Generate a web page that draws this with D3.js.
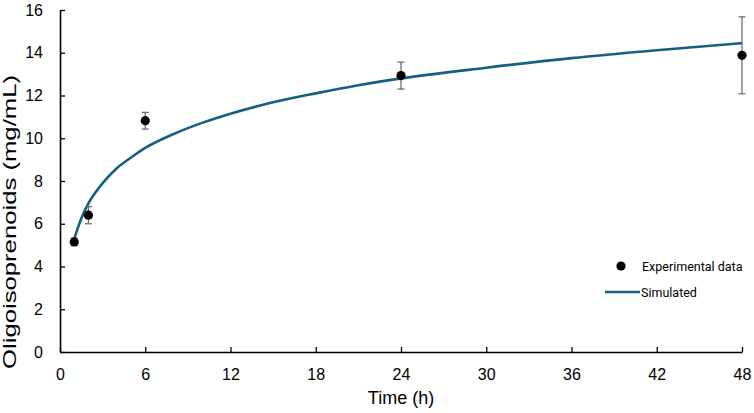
<!DOCTYPE html>
<html>
<head>
<meta charset="utf-8">
<script src="https://cdn.jsdelivr.net/npm/d3@7"></script>
<style>
  body { margin: 0; background: #fff; }
  text { font-family: "Liberation Sans", Arial, sans-serif; }
  .legend text { font-family: Roboto, "Noto Sans", sans-serif; }
</style>
</head>
<body>
<div id="chart"></div>
<script>
// experimental data (mean and error)
var expTime = [1, 2, 6, 24, 48];
var expValue = [5.15, 6.4, 10.82, 12.93, 13.88];
var expError = [0.17, 0.4, 0.39, 0.63, 1.8];

// simulated curve
var simTime = [1, 1.5, 2, 3, 4, 5, 6, 8, 10, 12, 15, 18, 21, 24, 30, 36, 42, 48];
var simValue = [5.3, 6.25, 6.95, 7.9, 8.6, 9.1, 9.55, 10.2, 10.72, 11.15, 11.68, 12.1, 12.48, 12.8, 13.3, 13.75, 14.12, 14.45];

var xTicks = [0, 6, 12, 18, 24, 30, 36, 42, 48];
var yTicks = [0, 2, 4, 6, 8, 10, 12, 14, 16];

var width = 754, height = 413;
var plotLeft = 60, plotRight = 742, plotTop = 10, plotBottom = 352;

var svg = d3.select('#chart').append('svg')
    .attr('width', width)
    .attr('height', height);

var x = d3.scaleLinear().domain([0, 48]).range([plotLeft, plotRight]);
var y = d3.scaleLinear().domain([0, 16]).range([plotBottom, plotTop]);

// axes with ticks pointing inside
var xAxis = svg.append('g')
    .attr('transform', 'translate(0,' + plotBottom + ')')
    .call(d3.axisBottom(x).tickValues(xTicks).tickSizeInner(-5).tickSizeOuter(0).tickPadding(17));

var yAxis = svg.append('g')
    .attr('transform', 'translate(' + plotLeft + ',0)')
    .call(d3.axisLeft(y).tickValues(yTicks).tickSizeInner(-5).tickSizeOuter(0).tickPadding(17));

[xAxis, yAxis].forEach(function(a) {
    a.select('.domain').attr('stroke', '#000').attr('stroke-width', 1.6);
    a.selectAll('.tick line').attr('stroke', '#000').attr('stroke-width', 1.3);
    a.selectAll('.tick text').attr('font-size', 16).attr('fill', '#000')
        .style('font-family', '"Liberation Sans", Arial, sans-serif');
});

// axis titles
svg.append('text')
    .attr('x', (plotLeft + plotRight) / 2)
    .attr('y', 404)
    .attr('text-anchor', 'middle')
    .attr('font-size', 18)
    .text('Time (h)');

svg.append('text')
    .attr('transform', 'translate(16,222) rotate(-90)')
    .attr('text-anchor', 'middle')
    .attr('font-size', 17.5)
    .attr('textLength', 294)
    .attr('lengthAdjust', 'spacingAndGlyphs')
    .text('Oligoisoprenoids (mg/mL)');

// simulated line
var line = d3.line()
    .x(function(d) { return x(d[0]); })
    .y(function(d) { return y(d[1]); })
    .curve(d3.curveMonotoneX);

svg.append('path')
    .datum(d3.zip(simTime, simValue))
    .attr('d', line)
    .attr('fill', 'none')
    .attr('stroke', '#156082')
    .attr('stroke-width', 2.6);

// error bars
var exp = expTime.map(function(t, i) { return { t: t, v: expValue[i], e: expError[i] }; });

var err = svg.selectAll('.err')
    .data(exp)
    .enter()
    .append('g')
    .attr('class', 'err')
    .attr('stroke', '#6e6e6e')
    .attr('stroke-width', 1.3);

err.append('line')
    .attr('x1', function(d) { return x(d.t); })
    .attr('x2', function(d) { return x(d.t); })
    .attr('y1', function(d) { return y(d.v + d.e); })
    .attr('y2', function(d) { return y(d.v - d.e); });

[1, -1].forEach(function(s) {
    err.append('line')
        .attr('x1', function(d) { return x(d.t) - 3.5; })
        .attr('x2', function(d) { return x(d.t) + 3.5; })
        .attr('y1', function(d) { return y(d.v + s * d.e); })
        .attr('y2', function(d) { return y(d.v + s * d.e); });
});

svg.selectAll('.dot')
    .data(exp)
    .enter()
    .append('circle')
    .attr('class', 'dot')
    .attr('cx', function(d) { return x(d.t); })
    .attr('cy', function(d) { return y(d.v); })
    .attr('r', 4.6)
    .attr('fill', '#000');

// legend
var legend = svg.append('g').attr('class', 'legend');

legend.append('circle')
    .attr('cx', 621).attr('cy', 266).attr('r', 4.6).attr('fill', '#000');
legend.append('text')
    .attr('x', 642).attr('y', 270.5).attr('font-size', 12.5).text('Experimental data');

legend.append('line')
    .attr('x1', 605).attr('x2', 640).attr('y1', 292).attr('y2', 292)
    .attr('stroke', '#156082').attr('stroke-width', 2.6);
legend.append('text')
    .attr('x', 641).attr('y', 296.5).attr('font-size', 12.5).text('Simulated');
</script>
</body>
</html>
